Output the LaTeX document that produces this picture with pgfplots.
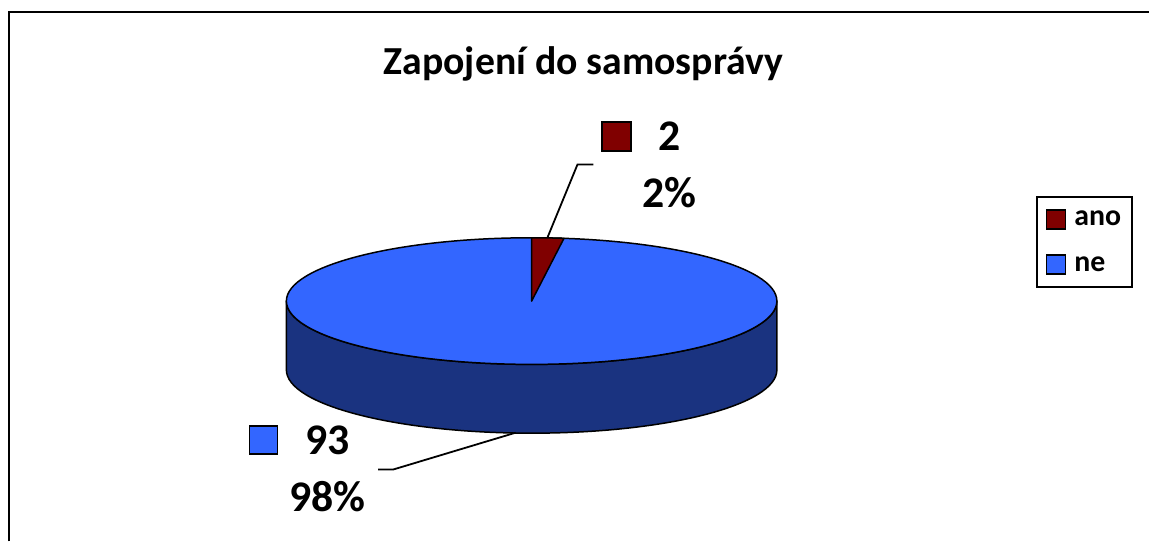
\documentclass[border=0pt]{standalone}
\usepackage{pgfplots}
\usepackage{pgfplotstable}
\pgfplotsset{compat=1.18}
\usepackage{fontspec}
\setmainfont{Carlito}[BoldFont={Carlito Bold}]
\definecolor{anored}{HTML}{800000}
\definecolor{netop}{HTML}{3366FF}
\definecolor{neside}{HTML}{1A3380}
\pgfplotstableread{
label value
ano 2
ne 93
}\piedata
\begin{document}
\pgfplotstablegetelem{0}{value}\of\piedata
\let\vano\pgfplotsretval
\pgfplotstablegetelem{1}{value}\of\piedata
\let\vne\pgfplotsretval
\pgfmathsetmacro\angA{90-360*\vano/(\vano+\vne)}
\begin{tikzpicture}
\begin{axis}[
  width=1150bp, height=543bp, scale only axis,
  xmin=0, xmax=1150, ymin=0, ymax=543,
  hide axis, clip=false,
  legend style={at={(axis cs:1037,346)}, anchor=north west, draw=black, line width=1.5bp,
    font=\bfseries\fontsize{30}{32}\selectfont, inner xsep=9bp, inner ysep=12bp,
    row sep=25bp, legend cell align=left},
  legend image code/.code={\draw[#1, line width=1.5bp] (0bp,-9.5bp) rectangle (19bp,9.5bp);
    \path[draw=none, fill=none] (0bp,0bp) -- (26bp,0bp);},
]
\path (axis cs:0,0) rectangle (axis cs:1150,543);
% frame (top and left only visible)
\draw[line width=2.5bp] (axis cs:7,0) -- (axis cs:7,531) -- (axis cs:1150,531);
% pie side
\filldraw[fill=neside, draw=black, line width=1.5bp, line join=round]
  (axis cs:285,241) -- (axis cs:285,172)
  arc[start angle=180, end angle=360, x radius=246bp, y radius=63.5bp]
  -- (axis cs:777,241)
  arc[start angle=0, end angle=-180, x radius=246bp, y radius=63.5bp] -- cycle;
% top blue
\filldraw[fill=netop, draw=black, line width=1.5bp]
  (axis cs:531,241) ellipse[x radius=246bp, y radius=63.5bp];
% red slice
\filldraw[fill=anored, draw=black, line width=1.5bp, line join=round]
  (axis cs:531,241) -- (axis cs:531,304.5)
  arc[start angle=90, end angle=\angA, x radius=246bp, y radius=63.5bp] -- cycle;
% leader lines
\draw[line width=1.8bp] (axis cs:593,378) -- (axis cs:577,378) -- (axis cs:547,305);
\draw[line width=1.8bp] (axis cs:377,72) -- (axis cs:392,72) -- (axis cs:515,109);
% data labels
\filldraw[fill=anored, draw=black, line width=1.8bp] (axis cs:601.5,391.5) rectangle (axis cs:630.5,420.5);
\filldraw[fill=netop, draw=black, line width=1.8bp] (axis cs:248,88) rectangle (axis cs:276,116);
\node[anchor=base, font=\bfseries\fontsize{44}{44}\selectfont, inner sep=0pt] at (axis cs:669,392) {2};
\node[anchor=base, font=\bfseries\fontsize{44}{44}\selectfont, inner sep=0pt] at (axis cs:669,335) {2\%};
\node[anchor=base, font=\bfseries\fontsize{44}{44}\selectfont, inner sep=0pt] at (axis cs:326,87) {93};
\node[anchor=base, font=\bfseries\fontsize{44}{44}\selectfont, inner sep=0pt] at (axis cs:326,30) {98\%};
% title
\node[anchor=base, font=\bfseries\fontsize{40}{40}\selectfont, inner sep=0pt] at (axis cs:583,468) {Zapojení do samosprávy};
\addlegendimage{fill=anored, draw=black}
\addlegendentry{ano}
\addlegendimage{fill=netop, draw=black}
\addlegendentry{ne}
\end{axis}
\end{tikzpicture}
\end{document}
